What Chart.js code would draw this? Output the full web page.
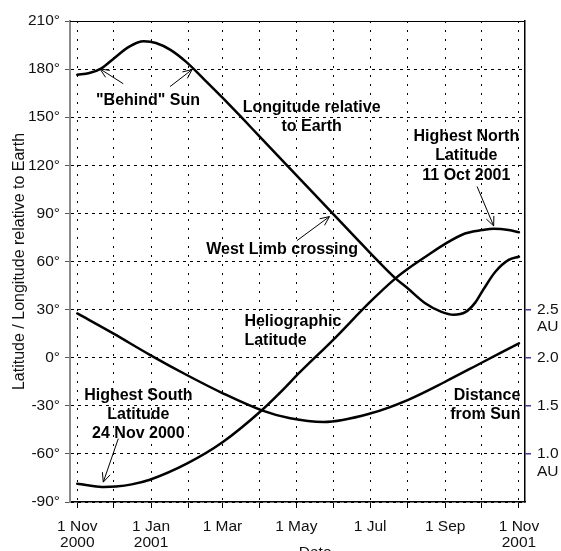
<!DOCTYPE html>
<html><head><meta charset="utf-8">
<script src="https://cdn.jsdelivr.net/npm/chart.js@4.4.1/dist/chart.umd.min.js"></script>
<style>html,body{margin:0;padding:0;background:#fff}#wrap{width:561px;height:551px;position:relative}</style>
</head><body><div id="wrap"><canvas id="c"></canvas></div>
<script>
// x values are days counted from 1 Nov 2000
const monthTickDays = [0,30,61,92,120,151,181,212,242,273,304,334,365];
const monthTickLabels = [['1 Nov','2000'],'',['1 Jan','2001'],'',['1 Mar'],'',['1 May'],'',['1 Jul'],'',['1 Sep'],'',['1 Nov','2001']];
const degreeTicks = [-90,-60,-30,0,30,60,90,120,150,180,210];
const auTicks = [1.0,1.5,2.0,2.5];

const longitudeDays = [0,10,20,30,43,55,65,77,90,105,120,135.6,150,180,211,240,263,273,287.5,301,311,320.7,329,336,345.5,356.5,365];
const longitudeDeg  = [176.5,177.6,180.5,186.5,194,197.3,196.3,192,184.5,173.5,162.2,150,138.5,114.7,90,67,49.5,43.3,34,28.6,26.8,28.4,34.5,43,53.6,61,63];

const latitudeDays = [0,10,22,32,45,60,90.5,120.3,152.5,167.6,184.2,211.7,242,263,273,287.5,304,321,334.5,344,356.5,365];
const latitudeDeg  = [-78.6,-79.7,-80.6,-80.3,-79,-76.1,-66.1,-52.6,-32.8,-21.8,-8.9,11.3,34.8,49.5,55.3,62.8,71,77.6,79.6,80.5,79.7,78.2];

const distanceDays = [0,30,60,90.5,120.3,152.5,176,203.5,242,273,304,334.5,365];
const distanceAU   = [2.46,2.25,2.03,1.82,1.63,1.453,1.37,1.332,1.42,1.56,1.75,1.95,2.15];

const notes = [
  {lines:['"Behind" Sun'], day:58.5, deg:160.3, align:'center'},
  {lines:['Longitude relative','to Earth'], day:193.7, deg:155.9, align:'center'},
  {lines:['West Limb crossing'], day:169.3, deg:67.2, align:'center'},
  {lines:['Highest North','Latitude','11 Oct 2001'], day:321.5, deg:137.8, align:'center'},
  {lines:['Heliographic','Latitude'], day:138.1, deg:22.4, align:'left'},
  {lines:['Highest South','Latitude','24 Nov 2000'], day:50.5, deg:-23.4, align:'center'},
  {lines:['Distance','from Sun'], day:366.2, deg:-23.4, align:'right'}
];
const arrows = [
  [38.0,170.9,18.8,180.1],
  [76.7,169.1,94.9,179.7],
  [181.5,73,208.4,88],
  [330.4,106.75,344.1,82.2],
  [33.9,-50.5,21.5,-77.6]
];

const FONT = "'Liberation Sans', Arial, sans-serif";
const toXY = (d, v) => d.map((x, i) => ({x, y: v[i]}));

const decor = {
  id: 'decor',
  afterDatasetsDraw(chart) {
    const {ctx, chartArea: a, scales: {x, y, y2}} = chart;
    ctx.save();
    ctx.strokeStyle = '#000'; ctx.lineWidth = 1; ctx.setLineDash([]);
    ctx.beginPath(); ctx.moveTo(a.left, a.top + 0.5); ctx.lineTo(a.right, a.top + 0.5); ctx.stroke();
    ctx.fillStyle = '#000';
    ctx.font = 'bold 16px ' + FONT;
    ctx.textBaseline = 'middle';
    for (const n of notes) {
      ctx.textAlign = n.align;
      const px = x.getPixelForValue(n.day), py = y.getPixelForValue(n.deg);
      n.lines.forEach((t, i) => ctx.fillText(t, px, py + i * 19.3));
    }
    ctx.lineWidth = 1;
    for (const [d1, v1, d2, v2] of arrows) {
      const x1 = x.getPixelForValue(d1), y1 = y.getPixelForValue(v1);
      const x2 = x.getPixelForValue(d2), y2p = y.getPixelForValue(v2);
      const ang = Math.atan2(y2p - y1, x2 - x1), L = 10, h = 0.42;
      ctx.beginPath();
      ctx.moveTo(x1, y1); ctx.lineTo(x2, y2p);
      ctx.moveTo(x2 - L * Math.cos(ang - h), y2p - L * Math.sin(ang - h));
      ctx.lineTo(x2, y2p);
      ctx.lineTo(x2 - L * Math.cos(ang + h), y2p - L * Math.sin(ang + h));
      ctx.stroke();
    }
    ctx.font = '15.5px ' + FONT;
    ctx.fillStyle = '#111';
    ctx.textAlign = 'left';
    for (const v of [2.5, 1.0]) {
      ctx.fillText('AU', y2.right - 24, y2.getPixelForValue(v) + 17.5);
    }
    ctx.textAlign = 'center';
    ctx.fillText('Date', x.getPixelForValue(196.6), 553);
    ctx.restore();
  }
};

new Chart(document.getElementById('c'), {
  type: 'line',
  data: {
    datasets: [
      {label: 'Longitude relative to Earth', data: toXY(longitudeDays, longitudeDeg), yAxisID: 'y'},
      {label: 'Heliographic Latitude', data: toXY(latitudeDays, latitudeDeg), yAxisID: 'y'},
      {label: 'Distance from Sun', data: toXY(distanceDays, distanceAU), yAxisID: 'y2'}
    ]
  },
  options: {
    responsive: true,
    maintainAspectRatio: false,
    animation: false,
    layout: {padding: {top: 21, left: 0, right: 0, bottom: 0}},
    elements: {
      line: {borderColor: '#000', borderWidth: 2.5, cubicInterpolationMode: 'monotone', fill: false, borderCapStyle: 'round', borderJoinStyle: 'round'},
      point: {radius: 0}
    },
    plugins: {legend: {display: false}, tooltip: {enabled: false}},
    scales: {
      x: {
        type: 'linear', min: -6, max: 370,
        afterFit(s) { s.height = 49; },
        afterBuildTicks(s) { s.ticks = monthTickDays.map(v => ({value: v})); },
        ticks: {
          autoSkip: false, maxRotation: 0, padding: 10, color: '#111',
          font: {family: FONT, size: 15.5, lineHeight: 1.07},
          callback: (v, i) => monthTickLabels[i]
        },
        grid: {color: '#000', lineWidth: 1, tickColor: '#000', tickLength: 6},
        border: {display: true, color: '#000', width: 1.5, dash: [2, 7]}
      },
      y: {
        type: 'linear', position: 'left', min: -90, max: 210,
        afterFit(s) { s.width = 70; },
        afterBuildTicks(s) { s.ticks = degreeTicks.map(v => ({value: v})); },
        ticks: {
          padding: 5, color: '#111',
          font: {family: FONT, size: 15.5},
          callback: v => v + '°'
        },
        grid: {
          color: c => (c.tick && c.tick.value === 210) ? 'rgba(0,0,0,0)' : '#000',
          lineWidth: 1, tickColor: '#555', tickLength: 5
        },
        border: {display: true, color: '#8a8a8a', width: 2, dash: [3, 4]},
        title: {
          display: true, text: 'Latitude / Longitude relative to Earth', color: '#111',
          font: {family: FONT, size: 16}, padding: {top: 10, bottom: 0}
        }
      },
      y2: {
        type: 'linear', position: 'right', min: 0.5, max: 5.5,
        afterFit(s) { s.width = 36; },
        afterBuildTicks(s) { s.ticks = auTicks.map(v => ({value: v})); },
        ticks: {
          padding: 6, color: '#111',
          font: {family: FONT, size: 15.5},
          callback: v => v.toFixed(1)
        },
        grid: {drawOnChartArea: false, tickColor: '#3b3b9b', tickLength: 6, lineWidth: 1.5},
        border: {display: true, color: '#000', width: 1.5}
      }
    }
  },
  plugins: [decor]
});
</script>
</body></html>
